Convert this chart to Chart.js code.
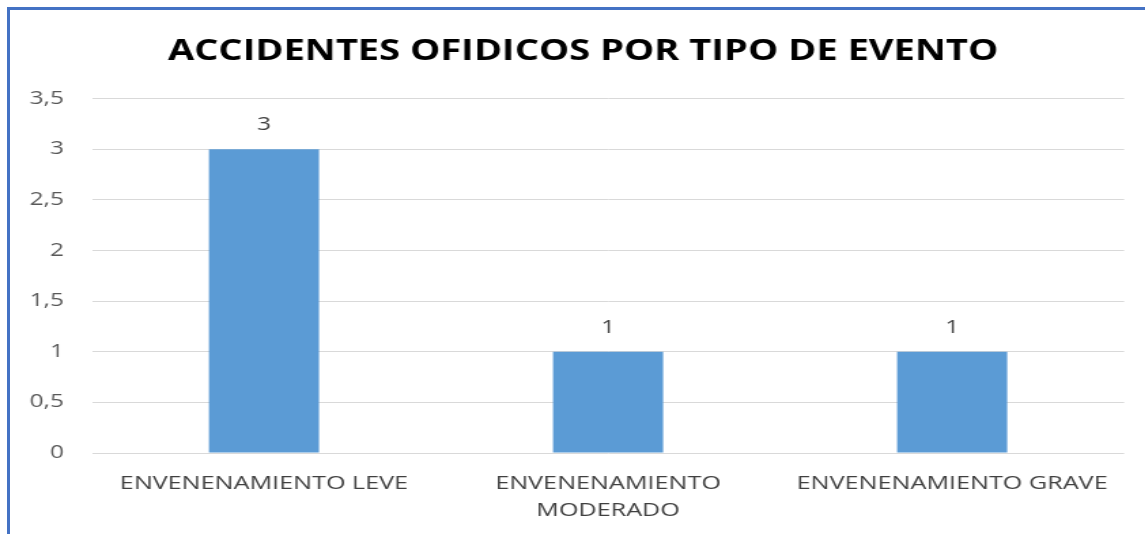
<!DOCTYPE html>
<html>
<head>
<meta charset="utf-8">
<script src="https://cdn.jsdelivr.net/npm/chart.js@4"></script>
<style>
    html, body { margin: 0; padding: 0; background: #fff; }
    #wrap { position: relative; width: 1145px; height: 534px; overflow: hidden; }
    #frame {
        position: absolute; left: 7px; top: 7px; right: -10px; bottom: -10px;
        border-top: 3px solid #4472C4; border-left: 3px solid #4472C4;
        pointer-events: none;
    }
    /* the source picture is stretched sideways, so the canvas is too */
    canvas { position: absolute; left: 0; top: 0; transform: scaleX(1.36); transform-origin: 0 0; }
</style>
</head>
<body>
<div id="wrap">
    <canvas id="chart" width="842" height="534"></canvas>
    <div id="frame"></div>
</div>
<script>
// Chart data
const chartTitle = 'ACCIDENTES OFIDICOS POR TIPO DE EVENTO';
const categories = [
    'ENVENENAMIENTO LEVE',
    ['ENVENENAMIENTO', 'MODERADO'],
    'ENVENENAMIENTO GRAVE'
];
const eventCounts = [3, 1, 1];
const yTickValues = [0, 0.5, 1, 1.5, 2, 2.5, 3, 3.5];
const yTickLabels = ['0', '0,5', '1', '1,5', '2', '2,5', '3', '3,5'];

const FONT = "'Open Sans', sans-serif";

// Value labels above each bar
const barValueLabels = {
    id: 'barValueLabels',
    afterDatasetsDraw(chart) {
        const ctx = chart.ctx;
        const meta = chart.getDatasetMeta(0);
        ctx.save();
        ctx.font = '18px ' + FONT;
        ctx.fillStyle = '#404040';
        ctx.textAlign = 'center';
        ctx.textBaseline = 'middle';
        meta.data.forEach((bar, i) => {
            ctx.fillText(String(eventCounts[i]), bar.x, bar.y - 24);
        });
        ctx.restore();
    }
};

// Nudge the title box so it sits a bit right of centre, like the source
const titleShift = {
    id: 'titleShift',
    afterLayout(chart) {
        if (chart.titleBlock) chart.titleBlock.left = 30.8;
    }
};

const ctx = document.getElementById('chart');
new Chart(ctx, {
    type: 'bar',
    data: {
        labels: categories,
        datasets: [{
            data: eventCounts,
            backgroundColor: '#5B9BD5',
            borderWidth: 0,
            barPercentage: 0.32,
            categoryPercentage: 1
        }]
    },
    options: {
        responsive: false,
        animation: false,
        layout: { padding: { left: 0, right: 15.4, top: 0, bottom: 0 } },
        plugins: {
            legend: { display: false },
            tooltip: { enabled: false },
            title: {
                display: true,
                text: chartTitle,
                color: '#000',
                font: { family: FONT, size: 28, weight: 'bold', lineHeight: 1.2 },
                padding: { top: 35, bottom: 30 }
            }
        },
        scales: {
            x: {
                grid: { display: false },
                border: { display: false },
                ticks: {
                    color: '#404040',
                    font: { family: FONT, size: 18.5, lineHeight: 1.42 },
                    padding: 10,
                    maxRotation: 0,
                    autoSkip: false
                },
                afterFit(scale) { scale.height = 81; }
            },
            y: {
                min: 0,
                max: 3.5,
                border: { display: false },
                grid: { color: '#D9D9D9', drawTicks: false },
                afterBuildTicks(scale) {
                    scale.ticks = yTickValues.map(v => ({ value: v }));
                },
                ticks: {
                    color: '#595959',
                    font: { family: FONT, size: 18 },
                    padding: 20.6,
                    callback: (value) => yTickLabels[yTickValues.indexOf(value)]
                },
                afterFit(scale) { scale.width = 67.6; }
            }
        }
    },
    plugins: [barValueLabels, titleShift]
});
</script>
</body>
</html>
